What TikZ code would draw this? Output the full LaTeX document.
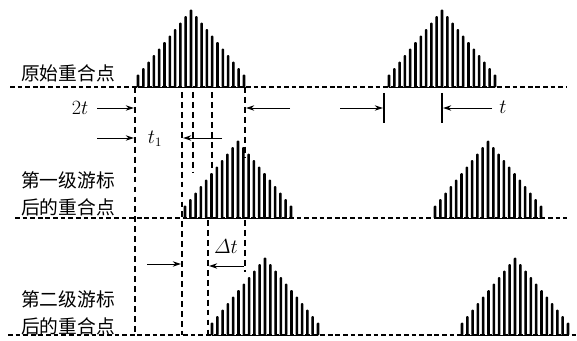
\documentclass[tikz,border=0pt]{standalone}
\usepackage{amsmath}
\usepackage{fontspec}
\newfontfamily\cjk{Noto Sans CJK SC}
\usetikzlibrary{positioning,arrows.meta,calc}

% one comb pulse: #1 centre x, #2 baseline y
\newcommand{\pulso}[2]{%
    \foreach \k in {-10,...,10}{
        \pgfmathsetmacro{\xk}{#1+5.3*\k}
        \pgfmathsetmacro{\hk}{77-6.5*abs(\k)}
        \filldraw[espiga] (\xk-0.8,#2) -- ++(0,-\hk) -- ++(1.6,0) -- ++(0,\hk) -- cycle;
    }
    \draw[espiga] (#1-53,#2) -- (#1+53,#2);
    \draw[line width=2.4pt] (#1,#2) -- ++(0,-77);
}

\begin{document}
\begin{tikzpicture}[
        x=0.3mm, y=-0.3mm,
        base/.style={line width=0.9pt, dash pattern=on 4pt off 2.5pt},
        guia/.style={line width=0.9pt, dash pattern=on 5pt off 3.5pt},
        espiga/.style={line width=0.8pt, rounded corners=0.6pt},
        marca/.style={line width=0.9pt},
        flecha/.style={-{Stealth[length=7pt,width=4.5pt]}, line width=0.8pt},
        rotulo/.style={font=\cjk\fontsize{16}{23}\selectfont, align=left, inner sep=0pt},
        cota/.style={font=\fontsize{16}{18}\selectfont, inner sep=0pt}
    ]
        \useasboundingbox (0,0) rectangle (577,340);

        % baselines
        \draw[base] (10,87) -- (567,87);
        \draw[base] (15,218) -- (567,218);
        \draw[base] (8,335) -- (577,335);

        % pulses
        \pulso{191}{87}
        \pulso{442}{87}
        \pulso{238}{218}
        \pulso{488}{218}
        \pulso{265}{335}
        \pulso{515}{335}

        % guide lines
        \draw[guia] (135,87) -- (135,335);
        \draw[guia] (182,92) -- (182,335);
        \draw[guia] (193,92) -- (193,172);
        \draw[guia] (212,92) -- (212,170);
        \draw[guia] (245,87) -- (245,158);
        \draw[guia] (208,220) -- (208,335);
        \draw[guia] (245,220) -- (245,272);
        \draw[marca] (384,93) -- (384,123);
        \draw[marca] (442,93) -- (442,123);

        % labels
        \node[rotulo] (orig) at (68,73) {原始重合点};
        \node[rotulo] (primera) at (68,194) {第一级游标\\后的重合点};
        \node[rotulo] (segunda) at (68,313) {第二级游标\\后的重合点};

        \node[cota] (dosT) at (80,108) {$2t$};
        \node[cota] (unT) at (503,107) {$t$};
        \node[cota] (tUno) at (155,139) {$t_{1}$};
        \node[cota] (deltaT) at (226,247) {$\varDelta t$};

        % dimension arrows
        \coordinate (a1) at (97,108);   \coordinate (b1) at (134,108);
        \coordinate (a2) at (290,108);  \coordinate (b2) at (246,108);
        \coordinate (a3) at (340,108);  \coordinate (b3) at (383,108);
        \coordinate (a4) at (492,108);  \coordinate (b4) at (443,108);
        \coordinate (a5) at (97,138);   \coordinate (b5) at (134,138);
        \coordinate (a6) at (222,138);  \coordinate (b6) at (183,138);
        \coordinate (a7) at (147,264);  \coordinate (b7) at (181,264);
        \coordinate (a8) at (244,266);  \coordinate (b8) at (209,266);

        \draw[flecha] (a1) -- (b1);
        \draw[flecha] (a2) -- (b2);
        \draw[flecha] (a3) -- (b3);
        \draw[flecha] (a4) -- (b4);
        \draw[flecha] (a5) -- (b5);
        \draw[flecha] (a6) -- (b6);
        \draw[flecha] (a7) -- (b7);
        \draw[flecha] (a8) -- (b8);
    \end{tikzpicture}
\end{document}
